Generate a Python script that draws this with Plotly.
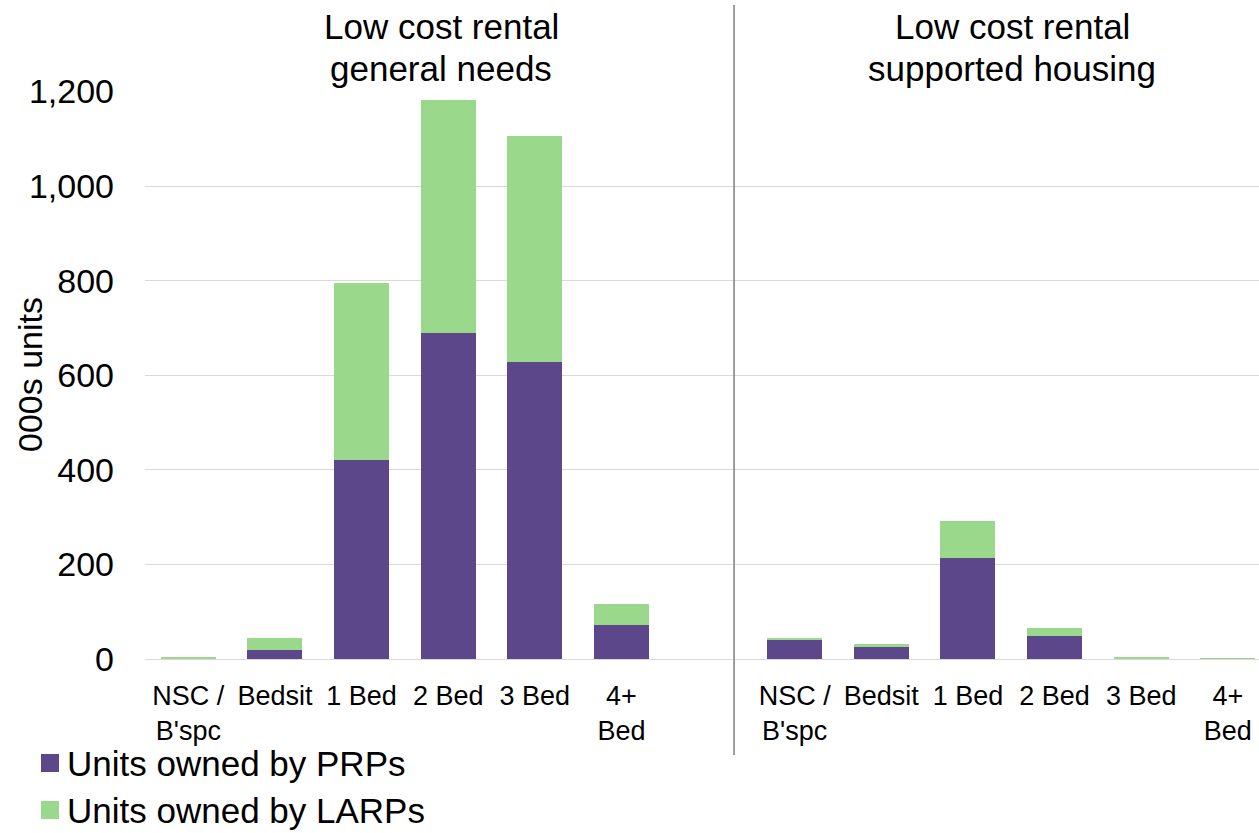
import plotly.graph_objects as go

# ---- data ----
categories = ["NSC /<br>B'spc", "Bedsit", "1 Bed", "2 Bed", "3 Bed", "4+<br>Bed"]
group_titles = ["Low cost rental<br>general needs", "Low cost rental<br>supported housing"]

gn_prp = [0.3, 18, 421, 690, 628, 71]
gn_larp = [3, 26, 373, 491, 477, 45]
sh_prp = [41, 26, 213, 49, 0.3, 0.0]
sh_larp = [1.5, 6, 78, 17, 2.5, 0.2]

series_names = ["Units owned by PRPs", "Units owned by LARPs"]
colors = ["#5C478A", "#9AD98C"]
y_ticks = [0, 200, 400, 600, 800, 1000, 1200]

FONT = "Liberation Sans, Arial, sans-serif"
W, H = 1259, 833
ML, MT, MB = 145, 91, 174
PW, PH = W - ML, H - MT - MB


def px_x(p):
    return (p - ML) / PW


def px_y(p):
    return (H - MB - p) / PH


# positions: group 1 at 0..5, gap at 6, group 2 at 7..12
n = len(categories)
x_pos = list(range(n)) + [n + 1 + i for i in range(n)]
tick_text = categories + categories
prp = gn_prp + sh_prp
larp = gn_larp + sh_larp

fig = go.Figure()
fig.add_trace(go.Bar(x=x_pos, y=prp, name=series_names[0], marker_color=colors[0],
                     marker_line_width=0, width=0.635))
fig.add_trace(go.Bar(x=x_pos, y=larp, name=series_names[1], marker_color=colors[1],
                     marker_line_width=0, width=0.635))

fig.update_layout(
    barmode="stack",
    width=W, height=H,
    margin=dict(l=ML, r=0, t=MT, b=MB),
    paper_bgcolor="white", plot_bgcolor="white",
    font=dict(family=FONT, color="#000000"),
    showlegend=False,
)

fig.update_xaxes(
    range=[-0.5, 12.36], tickmode="array", tickvals=x_pos, ticktext=tick_text,
    tickfont=dict(size=27, family=FONT, color="#000000"),
    showgrid=False, zeroline=False, showline=False, ticks="",
    ticklabelstandoff=18, automargin=False,
)
fig.update_yaxes(
    range=[0, 1201], tickmode="array", tickvals=y_ticks, tickformat=",",
    tickfont=dict(size=34, family=FONT, color="#000000"),
    showgrid=True, gridcolor="#D9D9D9", gridwidth=1.3,
    zeroline=True, zerolinecolor="#D9D9D9", zerolinewidth=1.3,
    showline=False, ticks="", ticklabelstandoff=30, automargin=False,
)

# divider between the two groups
fig.add_shape(type="line", xref="x", yref="paper", x0=6.30, x1=6.30,
              y0=px_y(755), y1=px_y(5), line=dict(color="#7F7F7F", width=1.5))

# group titles
for gx, title in zip([2.92, 9.51], group_titles):
    l1, l2 = title.split("<br>")
    fig.add_annotation(x=gx, xref="x", y=px_y(27), yref="paper", text=l1,
                       showarrow=False, xanchor="center", yanchor="middle",
                       font=dict(size=35, family=FONT, color="#000000"))
    fig.add_annotation(x=gx, xref="x", y=px_y(68), yref="paper", text=l2,
                       showarrow=False, xanchor="center", yanchor="middle",
                       font=dict(size=35, family=FONT, color="#000000"))

# y axis title
fig.add_annotation(x=px_x(30), xref="paper", y=0.5, yref="paper",
                   text="000s units", textangle=-90, showarrow=False,
                   xanchor="center", yanchor="middle",
                   font=dict(size=34, family=FONT, color="#000000"))

# legend (swatches + labels)
for i, (name, c) in enumerate(zip(series_names, colors)):
    cy = 763 + 47 * i
    fig.add_shape(type="rect", xref="paper", yref="paper",
                  x0=px_x(41), x1=px_x(59), y0=px_y(cy + 9), y1=px_y(cy - 9),
                  fillcolor=c, line=dict(width=0))
    fig.add_annotation(x=px_x(65), xref="paper", y=px_y(cy), yref="paper",
                       text=name, showarrow=False, xanchor="left", yanchor="middle",
                       font=dict(size=35, family=FONT, color="#000000"))

fig.write_html("out.html")
